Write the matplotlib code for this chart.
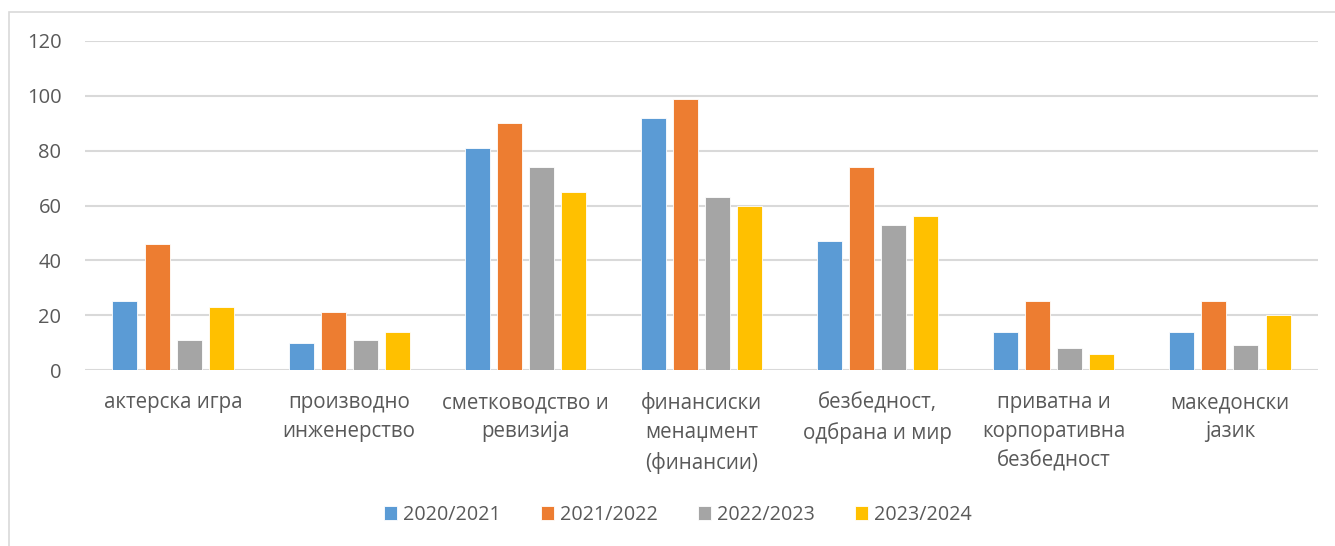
import matplotlib
matplotlib.use("Agg")
import matplotlib.pyplot as plt
from matplotlib.patches import Rectangle
import numpy as np

categories = ["актерска игра", "производно\nинженерство", "сметководство и\nревизија",
              "финансиски\nменаџмент\n(финансии)", "безбедност,\nодбрана и мир",
              "приватна и\nкорпоративна\nбезбедност", "македонски\nјазик"]
series = ["2020/2021", "2021/2022", "2022/2023", "2023/2024"]
y2020 = [25, 10, 81, 92, 47, 14, 14]
y2021 = [46, 21, 90, 99, 74, 25, 25]
y2022 = [11, 11, 74, 63, 53, 8, 9]
y2023 = [23, 14, 65, 60, 56, 6, 20]
colors = ["#5B9BD5", "#ED7D31", "#A5A5A5", "#FFC000"]

plt.rcParams['font.family'] = ['Open Sans', 'DejaVu Sans']
txt = "#595959"

fig = plt.figure(figsize=(13.35, 5.46), dpi=100)
# outer chart frame
fig.patches.append(Rectangle((9 / 1335, -0.1), 1.2, 1 - 12 / 546 + 0.1, transform=fig.transFigure,
                             fill=False, edgecolor="#D9D9D9", linewidth=1.2))

ax = fig.add_axes([85 / 1335, 1 - 370 / 546, (1318 - 85) / 1335, (370 - 41) / 546])
x = np.arange(len(categories))
pitch = 0.182
width = 0.142
for i, (vals, name) in enumerate(zip([y2020, y2021, y2022, y2023], series)):
    ax.bar(x + (i - 1.5) * pitch, vals, width, color=colors[i], label=name,
           edgecolor="white", linewidth=0.6, zorder=3)

ax.set_xlim(-0.5, len(categories) - 0.5)
ax.set_ylim(0, 120)
ax.set_yticks(range(0, 121, 20))
ax.grid(axis="y", color="#D9D9D9", linewidth=1.5, zorder=0)
ax.set_axisbelow(True)
for s in ax.spines.values():
    s.set_visible(False)
ax.tick_params(axis="both", length=0, colors=txt)
ax.tick_params(axis="y", pad=17, labelsize=14.5)
ax.tick_params(axis="x", pad=16, labelsize=14.8)
ax.set_xticks(x)
ax.set_xticklabels(categories, linespacing=1.5)

handles, labels = ax.get_legend_handles_labels()
fig.legend(handles, labels, loc="center", bbox_to_anchor=(678 / 1335, 1 - 515 / 546), ncol=4,
           frameon=False, fontsize=14.2, labelcolor=txt, handlelength=0.65, handleheight=0.65,
           handletextpad=0.3, columnspacing=2.05)

fig.savefig("out.png", dpi=100)
